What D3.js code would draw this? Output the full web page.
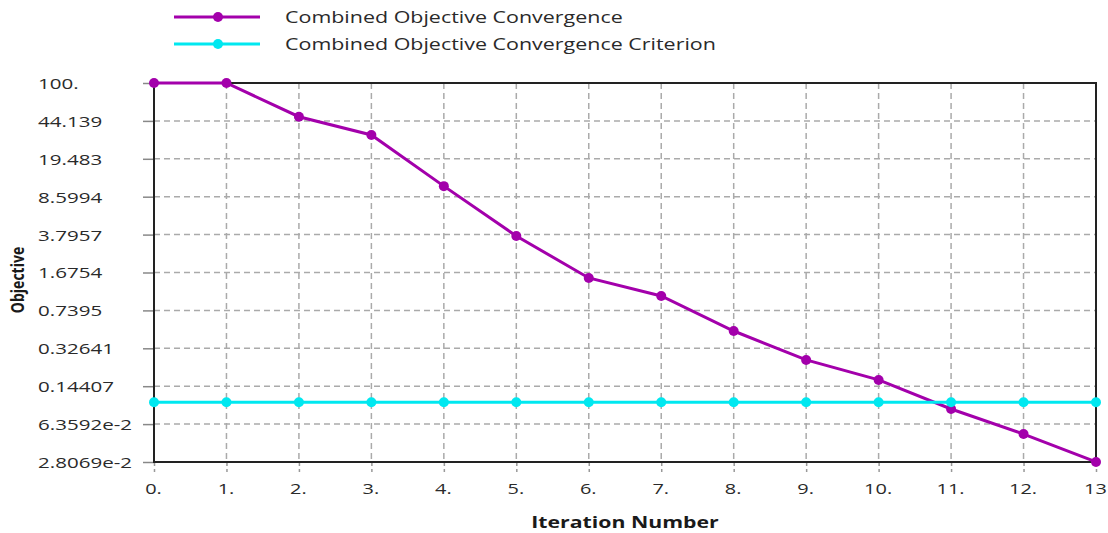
<!DOCTYPE html>
<html><head><meta charset="utf-8">
<script src="https://cdn.jsdelivr.net/npm/d3@7"></script>
<style>
html,body{margin:0;padding:0;background:#fff;overflow:hidden}
text{font-family:"Open Sans",sans-serif;fill:#2a2a2a}
</style></head>
<body>
<svg id="chart" width="1108" height="533"></svg>
<script>
const iterations = [0,1,2,3,4,5,6,7,8,9,10,11,12,13];
const objective = [100,100,48.3,32.6,10.8,3.68,1.49,1.01,0.474,0.254,0.165,0.0881,0.0513,0.0281];
const criterion = [0.1018,0.1018,0.1018,0.1018,0.1018,0.1018,0.1018,0.1018,0.1018,0.1018,0.1018,0.1018,0.1018,0.1018];
const yTickValues = [100,44.139,19.483,8.5994,3.7957,1.6754,0.7395,0.32641,0.14407,0.063592,0.028069];
const yTickLabels = ["100.","44.139","19.483","8.5994","3.7957","1.6754","0.7395","0.32641","0.14407","6.3592e-2","2.8069e-2"];
const xTickLabels = ["0.","1.","2.","3.","4.","5.","6.","7.","8.","9.","10.","11.","12.","13"];
const seriesNames = ["Combined Objective Convergence","Combined Objective Convergence Criterion"];
const seriesColors = ["#a300ab","#00e8f0"];

const svg = d3.select("#chart");
const m = {left:154, right:12, top:83, bottom:71};
const W = 1108, H = 533;
const x = d3.scaleLinear().domain([0,13]).range([m.left, W-m.right]);
const y = d3.scaleLog().domain([0.028069,100]).range([H-m.bottom, m.top]);
const sx = 1.33;

// grid
svg.append("g").selectAll("line").data(yTickValues.slice(1,-1)).join("line")
  .attr("x1",m.left).attr("x2",W-m.right).attr("y1",d=>y(d)).attr("y2",d=>y(d))
  .attr("stroke","#aaa").attr("stroke-width",1.5).attr("stroke-dasharray","6,4");
svg.append("g").selectAll("line").data(iterations.slice(1,-1)).join("line")
  .attr("y1",m.top).attr("y2",H-m.bottom).attr("x1",d=>x(d)).attr("x2",d=>x(d))
  .attr("stroke","#aaa").attr("stroke-width",1.5).attr("stroke-dasharray","6,4");

// axes
const yAxis = d3.axisLeft(y).tickValues(yTickValues).tickFormat("").tickSize(11);
const gy = svg.append("g").attr("transform",`translate(${m.left},0)`).call(yAxis);
gy.select(".domain").remove();
gy.selectAll(".tick line").attr("stroke","#888").attr("stroke-width",1.5);
gy.selectAll(".tick").append("text")
  .attr("x",0).attr("y",0).attr("dy","0.36em")
  .attr("text-anchor","start").style("font-size","15px")
  .attr("transform",`translate(${38-m.left},0) scale(1.37,1)`)
  .text((d,i)=>yTickLabels[i]);

const xAxis = d3.axisBottom(x).tickValues(iterations).tickFormat("").tickSize(10);
const gx = svg.append("g").attr("transform",`translate(0,${H-m.bottom})`).call(xAxis);
gx.select(".domain").remove();
gx.selectAll(".tick line").attr("stroke","#999").attr("stroke-width",1.5).attr("stroke-dasharray","4,3");
gx.selectAll(".tick").append("text")
  .attr("text-anchor","middle").style("font-size","15px")
  .attr("transform",`translate(-1,32) scale(${sx},1)`)
  .text((d,i)=>xTickLabels[i]);

// frame
svg.append("rect").attr("x",m.left).attr("y",m.top).attr("width",W-m.right-m.left).attr("height",H-m.bottom-m.top)
  .attr("fill","none").attr("stroke","#222").attr("stroke-width",2);

// axis titles
svg.append("text").attr("transform",`translate(${(m.left+W-m.right)/2},${528}) scale(${sx},1)`)
  .attr("text-anchor","middle").style("font-size","16px").style("font-weight","bold").style("fill","#1a1a1a")
  .text("Iteration Number");
svg.append("text").attr("transform",`translate(24,280) rotate(-90) scale(1,${sx})`)
  .attr("text-anchor","middle").style("font-size","14px").style("font-weight","bold").style("fill","#1a1a1a")
  .text("Objective");

// series
const line = d3.line().x((d,i)=>x(iterations[i])).y(d=>y(d));
const series = [objective, criterion];
series.forEach((s,k)=>{
  svg.append("path").datum(s).attr("d",line).attr("fill","none")
    .attr("stroke",seriesColors[k]).attr("stroke-width",3);
  svg.append("g").selectAll("circle").data(s).join("circle")
    .attr("cx",(d,i)=>x(iterations[i])).attr("cy",d=>y(d)).attr("r",5)
    .attr("fill",seriesColors[k]);
});

// legend
const lg = svg.append("g");
seriesNames.forEach((n,k)=>{
  const yy = 17 + k*27;
  lg.append("line").attr("x1",174).attr("x2",260).attr("y1",yy).attr("y2",yy)
    .attr("stroke",seriesColors[k]).attr("stroke-width",3);
  lg.append("circle").attr("cx",218).attr("cy",yy).attr("r",5).attr("fill",seriesColors[k]);
  lg.append("text").attr("transform",`translate(285,${yy}) scale(1.3,1)`).attr("dy","0.36em")
    .style("font-size","16.5px").text(n);
});
</script>
</body></html>
